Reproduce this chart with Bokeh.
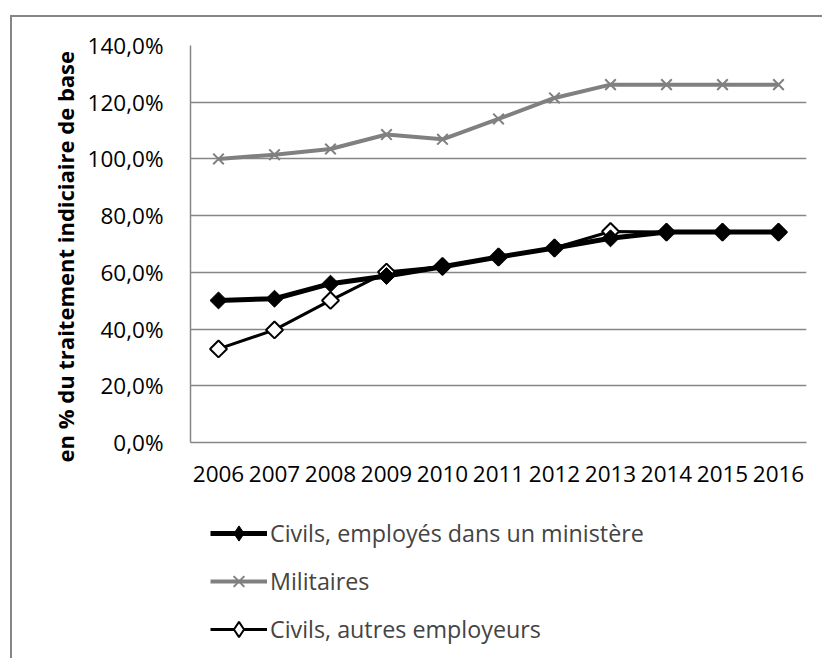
from math import pi

from bokeh.embed import file_html
from bokeh.layouts import column
from bokeh.models import (ColumnDataSource, CustomJSTickFormatter, FixedTicker, Legend,
                          LegendItem, Title)
from bokeh.plotting import figure
from bokeh.resources import INLINE

# Years and the three series (share of the base index salary, in %)
years = ["2006", "2007", "2008", "2009", "2010", "2011", "2012", "2013", "2014", "2015", "2016"]
civils_ministere = [50.1, 50.7, 56.0, 58.7, 62.0, 65.4, 68.6, 72.0, 74.2, 74.2, 74.2]
militaires = [100.0, 101.5, 103.5, 108.6, 106.9, 114.1, 121.5, 126.2, 126.2, 126.2, 126.2]
civils_autres = [33.0, 39.7, 50.1, 60.1, 62.1, 65.4, 68.6, 74.4, 74.2, 74.2, 74.2]
y_ticks = [0, 20, 40, 60, 80, 100, 120, 140]

labels = ["Civils, employés dans un ministère", "Militaires", "Civils, autres employeurs"]
y_title = "en % du traitement indiciaire de base"

FONT = "Open Sans"
GRID = "#868686"

# series styles: (line colour, line width, marker, marker size, fill, marker line width)
styles = {
    "cm": ("black", 5, "square", 12, "black", 1),
    "mil": ("#808080", 4, "x", 15, None, 2),
    "ca": ("black", 3, "square", 12, "white", 2),
}


def add_series(fig, source, key, x="year", marker_override=None):
    color, lw, marker, size, fill, mlw = styles[key]
    r_line = fig.line(x, key, source=source, line_color=color, line_width=lw)
    if marker_override and marker == "square":
        marker = marker_override
    kw = dict(marker=marker, size=size, line_color=color, line_width=mlw, fill_color=fill)
    if marker == "square":
        kw["angle"] = pi / 4  # square turned on its point: diamond
    r_pts = fig.scatter(x, key, source=source, **kw)
    return r_line, r_pts


src = ColumnDataSource(dict(year=years, cm=civils_ministere, mil=militaires, ca=civils_autres))

# ---- chart ----
p = figure(
    width=810, height=480,
    x_range=years, y_range=(0, 140),
    output_backend="svg", toolbar_location=None,
    min_border_left=178, min_border_right=16, min_border_top=28, min_border_bottom=55,
    background_fill_color="white", border_fill_color="white",
)
p.outline_line_color = None

p.yaxis.ticker = FixedTicker(ticks=y_ticks)
p.yaxis.formatter = CustomJSTickFormatter(code="return tick.toFixed(1).replace('.', ',') + '%';")
for ax in (p.xaxis[0], p.yaxis[0]):
    ax.axis_line_color = GRID
    ax.axis_line_width = 1.5
    ax.major_tick_line_color = None
    ax.minor_tick_line_color = None
    ax.major_tick_out = 0
    ax.major_tick_in = 0
    ax.major_label_text_font = FONT
    ax.major_label_text_font_size = "22.5px"
    ax.major_label_text_color = "black"
p.yaxis.major_label_standoff = 27
p.xaxis.major_label_standoff = 23

p.add_layout(Title(text=y_title, align="left", offset=-20, standoff=10,
                   text_font=FONT, text_font_style="bold", text_font_size="22px",
                   text_color="black"), "left")

p.xgrid.grid_line_color = None
p.ygrid.grid_line_color = GRID
p.ygrid.grid_line_width = 1.5

# "autres" first so the ministry series sits on top where they overlap
add_series(p, src, "ca")
add_series(p, src, "mil")
add_series(p, src, "cm")

# ---- legend strip ----
q = figure(
    width=810, height=161, x_range=(0, 1), y_range=(0, 1),
    output_backend="svg", toolbar_location=None,
    min_border=0, background_fill_color="white", border_fill_color="white",
)
q.outline_line_color = None
q.axis.visible = False
q.grid.visible = False
off = ColumnDataSource(dict(x=[-10], cm=[-10], mil=[-10], ca=[-10]))
leg_items = []
for key, lab in zip(["cm", "mil", "ca"], labels):
    rs = add_series(q, off, key, x="x", marker_override="diamond")
    leg_items.append(LegendItem(label=lab, renderers=list(rs)))

legend = Legend(
    items=leg_items,
    location=(20, 10),
    orientation="vertical",
    glyph_width=57, glyph_height=38, label_height=38,
    spacing=10, padding=0, margin=0, label_standoff=3,
    label_text_font=FONT, label_text_font_size="23.3px",
    border_line_color=None, background_fill_alpha=0,
)
q.add_layout(legend, "center")

page = column(
    p, q, spacing=0,
    styles={
        "margin-left": "10px", "margin-top": "15px",
        "border-left": f"2px solid {GRID}", "border-top": f"2px solid {GRID}",
    },
)

open("out.html", "w").write(file_html(page, INLINE))
